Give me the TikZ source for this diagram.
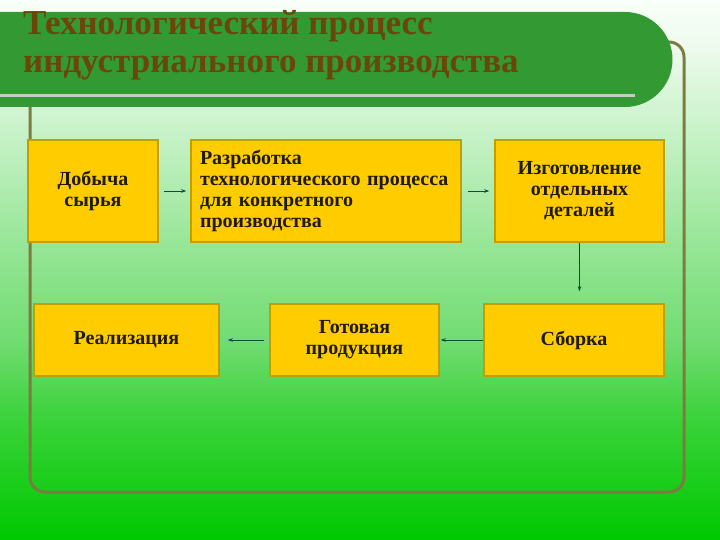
\documentclass[tikz,border=0pt]{standalone}
\usepackage{fontspec}
\setmainfont{Liberation Serif}
\usepackage{tikz}
\usepackage{xcolor}
\usetikzlibrary{positioning, arrows.meta}

\definecolor{barGreen}{HTML}{339933}
\definecolor{barLine}{HTML}{C3CCC3}
\definecolor{headText}{HTML}{6B460B}
\definecolor{frameOlive}{HTML}{7C7C40}
\definecolor{boxFill}{HTML}{FFCC00}
\definecolor{boxLine}{HTML}{BFA000}
\definecolor{boxText}{HTML}{1F1A0A}
\definecolor{arrowTeal}{HTML}{0E4D3B}
\definecolor{bgA}{HTML}{00C800}
\definecolor{bgB}{HTML}{3AD23A}
\definecolor{bgC}{HTML}{72DC72}
\definecolor{bgD}{HTML}{8CE38C}
\definecolor{bgE}{HTML}{C0F0C0}
\definecolor{bgF}{HTML}{F0FBF0}
\definecolor{bgG}{HTML}{F8FFF8}

\pgfdeclareverticalshading{slidebg}{100bp}{color(0bp)=(bgA); color(25bp)=(bgA); color(36.1bp)=(bgB); color(43.5bp)=(bgC); color(50bp)=(bgD); color(61.1bp)=(bgE); color(71.3bp)=(bgF); color(75bp)=(bgG); color(100bp)=(bgG)}

\tikzset{
  stage/.style={draw=boxLine, fill=boxFill, line width=1.5pt, text=boxText,
    font=\bfseries\fontsize{20}{21}\selectfont, align=center, inner sep=0pt},
  flow/.style={-{Stealth[length=5pt, width=3.5pt]}, draw=arrowTeal, line width=0.8pt}
}

\begin{document}
\begin{tikzpicture}[x=1pt, y=-1pt]
        \useasboundingbox (0, 0) rectangle (720, 540);
        \fill[shading=slidebg] (0, 0) rectangle (720, 540);
        \draw[frameOlive, line width=3pt, rounded corners=15pt] (30, 42) rectangle (684, 492);
        \fill[barGreen] (0, 12) -- (625, 12) arc[start angle=90, end angle=-90, radius=47.5pt] -- (0, 107) -- cycle;
        \draw[barLine, line width=3pt] (0, 96) -- (635, 96);
        \node[anchor=north west, inner sep=0pt, align=left, text=headText,
          font=\bfseries\fontsize{35}{38}\selectfont] (title) at (23, 10)
          {Технологический процесс\\индустриального производства};

        \node[stage, minimum width=130pt, minimum height=102pt] (raw) at (93, 191) {Добыча\\сырья};
        \node[stage, minimum width=270pt, minimum height=102pt, text width=252pt, align=left] (design) at (326, 191)
          {Разработка\\технологического процесса\\для конкретного\\производства};
        \node[stage, minimum width=169pt, minimum height=102pt] (parts) at (579.5, 191) {Изготовление\\отдельных\\деталей};
        \node[stage, minimum width=180pt, minimum height=72pt] (assembly) at (574, 340) {Сборка};
        \node[stage, minimum width=169pt, minimum height=72pt] (product) at (354.5, 340) {Готовая\\продукция};
        \node[stage, minimum width=185pt, minimum height=72pt] (sale) at (126.5, 340) {Реализация};

        \draw[flow, shorten <=5pt, shorten >=4pt] (raw) -- (design);
        \draw[flow, shorten <=6pt, shorten >=5pt] (design) -- (parts);
        \draw[flow, shorten >=12pt] (parts.south) -- (parts.south |- assembly.north);
        \draw[flow, shorten >=1pt] (assembly) -- (product);
        \draw[flow, shorten <=5pt, shorten >=8pt] (product) -- (sale);
    \end{tikzpicture}
\end{document}
